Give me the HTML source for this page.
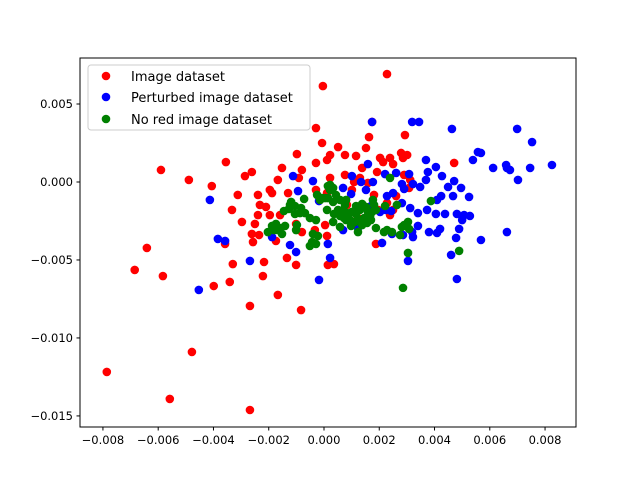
<!DOCTYPE html>
<html><head><meta charset="utf-8"><style>
body{margin:0;background:#fff}
svg{display:block;font-family:"DejaVu Sans","Liberation Sans",sans-serif}
</style></head><body>
<svg id="chart" width="640" height="480" viewBox="0 0 640 480" xmlns="http://www.w3.org/2000/svg">
<rect width="640" height="480" fill="#fff"/>
<g id="marks"></g>
<g id="axes"></g>
<g id="legend">
<rect x="88" y="65" width="222" height="65" rx="3" fill="#fff" fill-opacity="0.8" stroke="#ccc"/>
<circle cx="106" cy="76" r="4.3" fill="red"/>
<text x="131" y="81" font-size="13">Image dataset</text>
<circle cx="106" cy="97" r="4.3" fill="blue"/>
<text x="131" y="102" font-size="13">Perturbed image dataset</text>
<circle cx="106" cy="119" r="4.3" fill="green"/>
<text x="131" y="124" font-size="13">No red image dataset</text>
</g>
</svg>
<script>
// values in units of 0.001
const redX=[2.28,-0.04,1.63,-5.90,-4.89,-4.06,-3.55,-3.58,-6.41,-6.85,-5.83,-7.86,-5.58,-2.68,-4.78,-3.99,-3.41,-3.30,-2.68,-2.21,-2.61,-2.50,-2.86,-2.61,-2.39,-2.32,-1.88,-1.67,-1.52,-0.98,-0.80,-0.29,-0.29,-0.07,0.51,0.11,0.76,1.16,1.52,1.74,2.03,1.92,2.14,2.50,2.79,2.93,3.01,2.90,3.12,3.08,2.86,2.39,1.88,1.16,0.36,0.11,0.04,-0.33,-1.01,-0.80,-1.34,-0.83,0.14,-1.74,-1.96,-2.10,-1.30,-0.91,-0.29,0.22,0.11,0.76,1.09,1.01,1.30,1.38,1.59,1.81,2.28,2.50,1.96,2.61,4.71,2.39,-2.17,-1.67,-1.01,-2.35,-3.12,-3.33,-2.97,-2.57,-2.39,-1.96,-1.59,0.83,1.23,0.22];
const redY=[6.92,6.15,2.88,0.77,0.13,-0.26,1.28,-3.97,-4.23,-5.64,-6.03,-12.18,-13.91,-14.62,-10.90,-6.67,-6.41,-5.26,-7.95,-6.03,-3.33,-2.69,0.38,0.64,-0.83,-1.47,-0.71,0.13,0.90,1.79,0.77,1.22,3.46,2.50,2.24,1.41,1.73,1.67,2.18,3.85,1.54,0.64,1.28,1.15,1.86,3.01,1.73,0.45,0.13,-0.38,1.54,-2.12,-3.97,-2.63,-5.26,-3.46,-2.76,-3.08,-2.69,-3.21,-4.87,-8.21,-5.32,-3.78,-0.51,-1.60,-0.71,0.26,-0.51,0.26,-0.71,0.45,0.00,-0.51,0.26,0.90,-0.06,-0.83,-1.35,-1.79,-1.79,-0.90,1.22,1.54,-5.13,-7.24,-5.32,-3.40,-0.83,-1.79,-2.56,-3.85,-2.12,-2.12,-2.12,-1.47,-2.31,1.73];
const blueX=[1.74,3.19,3.44,4.63,6.99,7.53,5.57,5.68,5.39,6.12,6.62,8.25,6.59,6.73,7.46,7.02,3.69,4.05,4.27,3.76,1.59,2.61,3.08,2.82,3.22,2.90,3.48,3.69,4.49,4.96,4.71,4.24,4.67,4.09,5.25,2.21,2.28,2.50,1.77,0.98,0.69,2.24,1.70,2.03,2.82,3.12,3.40,3.73,4.05,4.38,4.81,5.07,4.89,5.00,5.28,3.40,4.09,4.20,3.19,3.22,3.80,4.78,5.68,6.62,2.46,2.10,2.86,0.22,-0.18,4.60,4.81,3.04,1.23,0.69,-4.13,-3.84,-3.58,-4.53,-2.68,-1.88,-1.23,-1.01,-0.40,-0.18,0.14,-0.94,-1.12,1.01,1.34,1.52,2.43];
const blueY=[3.85,3.85,3.85,3.40,3.40,2.56,1.92,1.86,1.41,0.90,0.90,1.09,1.09,0.77,0.90,0.13,1.41,0.96,0.38,0.64,1.15,0.58,0.51,-0.13,-0.13,-0.45,-0.32,0.13,-0.32,-0.38,0.06,-0.90,-0.90,-1.15,-0.96,0.51,-0.90,-0.71,0.00,-0.77,-0.38,-1.79,-1.54,-1.92,-1.35,-1.67,-1.99,-1.79,-2.05,-2.05,-2.05,-2.12,-3.01,-2.44,-2.18,-2.82,-3.27,-3.01,-3.21,-3.53,-3.21,-3.59,-3.72,-3.21,-3.33,-3.91,-3.40,-4.87,-6.28,-4.68,-6.22,-5.06,-2.95,-3.08,-1.15,-3.65,-3.78,-6.92,-5.06,-3.53,-4.04,-4.49,0.06,-1.22,-3.97,-0.58,0.38,0.38,0.00,-0.51,-1.86];
const greenX=[0.14,0.22,0.33,0.43,0.14,-0.07,0.33,0.58,0.80,0.76,0.69,0.51,0.36,0.58,0.87,1.01,1.16,1.30,1.16,1.38,1.52,1.59,1.67,1.45,1.30,1.12,0.94,0.80,0.72,1.38,1.52,1.74,1.88,1.70,1.81,1.77,1.88,1.56,2.21,2.28,2.46,2.75,2.82,2.90,2.39,2.64,3.08,3.04,2.86,4.89,3.87,-0.72,-0.83,-1.05,-1.19,-1.27,-1.05,-0.87,-0.69,-0.51,-0.29,-0.22,-0.40,-0.43,-0.29,-0.51,-1.01,-0.98,-1.41,-1.52,-1.67,-1.81,-2.03,-1.88,-1.45,-1.23,-1.74,-1.59,1.23,0.33,-0.14,0.11,2.17,0.98,0.58,-0.25,0.04,3.04,0.22,0.83];
const greenY=[-0.26,-0.51,-0.38,-0.83,-1.03,-1.03,-1.28,-1.15,-1.15,-1.47,-1.79,-1.79,-2.05,-2.18,-2.18,-1.92,-2.05,-1.79,-1.54,-1.41,-1.60,-1.92,-2.18,-2.31,-2.44,-2.56,-2.44,-2.44,-2.31,-2.76,-2.56,-1.92,-1.79,-2.44,-1.47,-1.15,-2.95,-2.63,-1.54,-3.08,-3.21,-3.40,-2.88,-2.76,0.26,-1.47,-3.01,-4.55,-6.79,-4.42,-1.22,-1.09,-1.67,-1.54,-1.28,-1.73,-2.05,-1.99,-1.99,-2.31,-2.44,-3.46,-3.33,-3.85,-3.97,-4.10,-3.08,-2.76,-2.82,-3.33,-3.08,-3.08,-3.21,-2.82,-1.86,-1.47,-2.69,-2.95,-3.21,-2.56,-1.15,-1.79,-3.21,-2.82,-2.88,-0.83,-1.03,-2.56,-0.19,-1.99];
const xTicks=[-0.008,-0.006,-0.004,-0.002,0,0.002,0.004,0.006,0.008];
const yTicks=[0.005,0,-0.005,-0.010,-0.015];

const NS='http://www.w3.org/2000/svg';
const L=80,R=576,T=58,B=427;
const xMin=-0.00883,xMax=0.00912,yMin=-0.01571,yMax=0.00795;
function sx(v){return L+(v-xMin)/(xMax-xMin)*(R-L);}
function sy(v){return B-(v-yMin)/(yMax-yMin)*(B-T);}
function mk(tag,attrs,parent){const e=document.createElementNS(NS,tag);for(const k in attrs)e.setAttribute(k,attrs[k]);parent.appendChild(e);return e;}
const marks=document.getElementById('marks');
function series(xs,ys,color,name){
  for(let i=0;i<xs.length;i++){
    const c=mk('circle',{cx:sx(xs[i]*1e-3),cy:sy(ys[i]*1e-3),r:4.3,fill:color},marks);
    
    
  }
}
series(redX,redY,'red','image-dataset');
series(blueX,blueY,'blue','perturbed-dataset');
series(greenX,greenY,'green','no-red-dataset');
const axes=document.getElementById('axes');
const frame=mk('rect',{x:L,y:T,width:R-L,height:B-T,fill:'none',stroke:'#000','stroke-width':1},axes);


function fmt(v,d){const s=Math.abs(v).toFixed(d);return (v<-1e-12?'\u2212':'')+s;}
xTicks.forEach(v=>{
  const x=sx(v);
  const t=mk('line',{x1:x,x2:x,y1:B,y2:B+3.5,stroke:'#000'},axes);
  
  
  const l=mk('text',{x:x,y:B+17,'font-size':'11.5','text-anchor':'middle'},axes);
  l.textContent=fmt(v,3);
  
  
});
yTicks.forEach(v=>{
  const y=sy(v);
  const t=mk('line',{x1:L-3.5,x2:L,y1:y,y2:y,stroke:'#000'},axes);
  
  
  const l=mk('text',{x:L-7,y:y+4,'font-size':'11.5','text-anchor':'end'},axes);
  l.textContent=fmt(v,3);
  
  
});
</script>
</body></html>
